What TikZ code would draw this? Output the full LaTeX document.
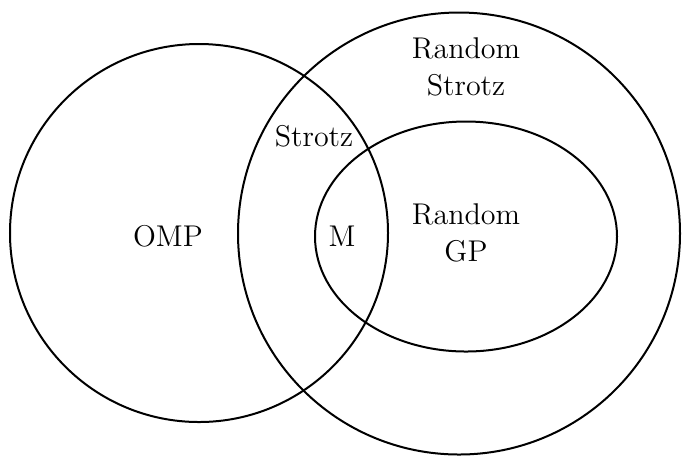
\documentclass[tikz,border=0pt]{standalone}
\begin{document}
\begin{tikzpicture}[x=0.4pt,y=-0.4pt,
  setline/.style={draw=black,line width=0.8pt},
  lbl/.style={font=\fontsize{12}{14.5}\selectfont,align=center,inner sep=0pt}]
\useasboundingbox (0,0) rectangle (686,463);
\draw[setline] (199,233) circle[radius=75.6pt];
\draw[setline] (459,233.5) circle[radius=88.4pt];
\draw[setline] (466,236.5) ellipse[x radius=60.4pt,y radius=46pt];
\node[lbl] (rs) at (466,67) {Random\\Strotz};
\node[lbl] (st) at (314,136) {Strotz};
\node[lbl] (omp) at (168,236) {OMP};
\node[lbl] (m) at (342,236) {M};
\node[lbl] (rgp) at (466,233) {Random\\GP};
\end{tikzpicture}
\end{document}
